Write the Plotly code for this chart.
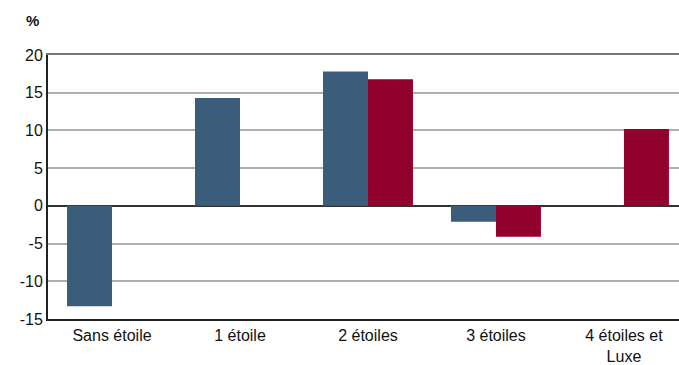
import plotly.graph_objects as go

categories = ["Sans étoile", "1 étoile", "2 étoiles", "3 étoiles", "4 étoiles et<br>Luxe"]
series_a = [-13.3, 14.3, 17.8, -2.1, None]
series_b = [None, None, 16.8, -4.1, 10.2]
y_ticks = [-15, -10, -5, 0, 5, 10, 15, 20]
y_tick_labels = ["-15", "-10", "-5", "0", "5", "10", "15", "20"]

fig = go.Figure()
fig.add_trace(go.Bar(x=list(range(len(categories))), y=series_a, marker_color="#3b5c7b", marker_line_width=0))
fig.add_trace(go.Bar(x=list(range(len(categories))), y=series_b, marker_color="#92002e", marker_line_width=0))
fig.add_trace(go.Scatter(x=[0], y=[0], xaxis="x2", yaxis="y", mode="none", showlegend=False, hoverinfo="skip"))

font = dict(family="Liberation Sans, Arial, sans-serif", size=16, color="#111")
fig.update_layout(
    width=679, height=365,
    margin=dict(l=48, r=0, t=55, b=46),
    paper_bgcolor="white", plot_bgcolor="white",
    barmode="group", bargap=0.297, bargroupgap=0,
    showlegend=False,
    font=font,
    xaxis=dict(
        range=[-0.5, 4.43], tickvals=list(range(len(categories))), ticktext=categories,
        showgrid=False, showline=True, linecolor="#222", linewidth=2,
        ticks="", zeroline=False, tickfont=font, automargin=False, ticklabelstandoff=1,
    ),
    xaxis2=dict(
        overlaying="x", side="top", range=[-0.5, 4.43], showticklabels=False,
        showgrid=False, showline=True, linecolor="#777", linewidth=2, ticks="", zeroline=False,
        automargin=False,
    ),
    yaxis=dict(
        range=[-15, 20], tickvals=y_ticks, ticktext=y_tick_labels,
        showgrid=True, gridcolor="#b0b0a8", gridwidth=1.5,
        showline=True, linecolor="#222", linewidth=2, ticks="",
        zeroline=True, zerolinecolor="#333", zerolinewidth=2, tickfont=font, automargin=False,
    ),
    annotations=[dict(text="<b>%</b>", xref="paper", yref="paper", x=-0.024, y=1.13,
                      xanchor="center", yanchor="middle", showarrow=False,
                      font=dict(family="Liberation Sans, Arial", size=15, color="#111"))],
)
fig.write_html("out.html", config={"displayModeBar": False},
               post_script="document.body.style.margin='0';document.body.style.overflow='hidden';")
